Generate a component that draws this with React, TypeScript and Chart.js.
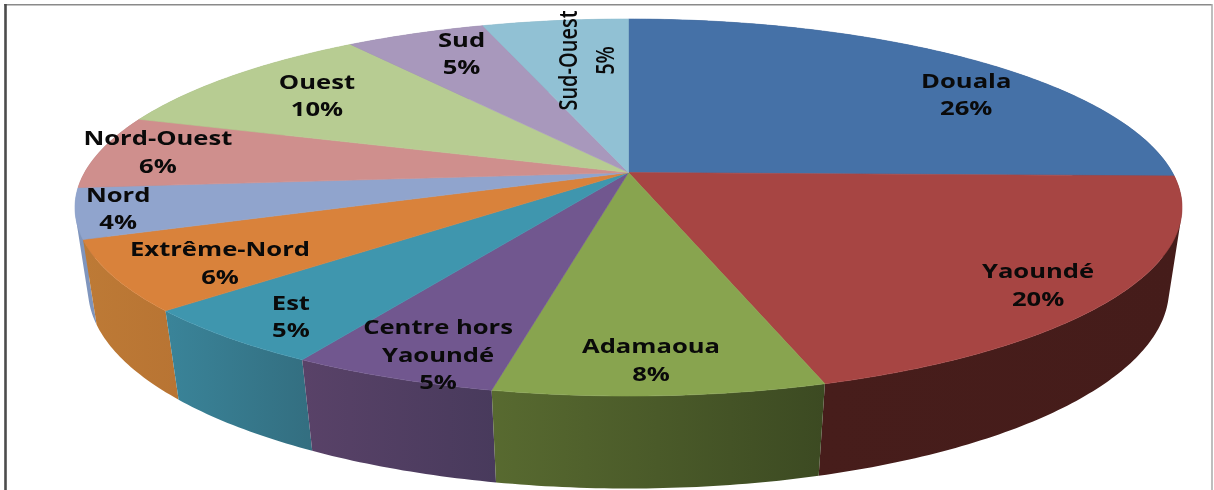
import React, { useEffect, useRef } from "react";
import { Chart, registerables } from "chart.js";

Chart.register(...registerables);

// Data
const categories = ["Douala", "Yaoundé", "Adamaoua", "Centre hors Yaoundé", "Est", "Extrême-Nord", "Nord", "Nord-Ouest", "Ouest", "Sud", "Sud-Ouest"];
const values = [25.3, 19.9, 8.1, 5.1, 5.0, 6.0, 4.3, 6.3, 10.0, 4.9, 5.1];
const percentLabels = ["26%", "20%", "8%", "5%", "5%", "6%", "4%", "6%", "10%", "5%", "5%"];

// Styles
const faceColors = ["#4571a7", "#a74543", "#88a44f", "#71578f", "#3f96ae", "#d9823b", "#90a4cd", "#cf8f8d", "#b7cc92", "#a898bc", "#91c1d4"];
const wallColors = [
  ["#2e4a6e", "#2e4a6e"], ["#471d1b", "#451c1a"], ["#586a30", "#3c4a22"], ["#594268", "#483a5c"],
  ["#3a8499", "#336e80"], ["#bd7a36", "#b87433"], ["#7f95bd", "#7f95bd"], ["#a07070", "#a07070"],
  ["#8fa070", "#8fa070"], ["#7a6e8a", "#7a6e8a"], ["#6f95a5", "#6f95a5"],
];
// Label placement, as polar offsets in the plane of the pie
const labelAngleShift = [9.9, 2.6, 0.4, -1.8, -1.2, -2.6, 0.4, 0.7, 0.3, 2, 2.3];
const labelRadius = [0.819, 0.875, 0.866, 0.895, 0.878, 0.825, 0.925, 0.891, 0.771, 0.821, 0.7];
const labelRotation = [0, 0, 0, 0, 0, 0, 0, 0, 0, 0, -90];

const topView = { cx: 628.5, cy: 172.5, a: 543.9, b: 182, k: 0.1857 };
const baseView = { cx: 628.5, cy: 254, a: 532, b: 193, k: 0.177 };
const TEXT_STRETCH = 1.28;
const LINE_PITCH = 27.5;
const ROTATED_PITCH = 37 / TEXT_STRETCH;

type View = typeof topView;
type Pt = [number, number];

function project(view: View, theta: number, r = 1): Pt {
  const u = r * Math.sin(theta);
  const v = -r * Math.cos(theta);
  const w = 1 - view.k * v;
  return [view.cx + (view.a * u) / w, view.cy + (view.b * v) / w];
}

function rimPoints(view: View, from: number, to: number): Pt[] {
  const steps = Math.max(2, Math.ceil(Math.abs(to - from) / (Math.PI / 240)));
  const pts: Pt[] = [];
  for (let i = 0; i <= steps; i++) pts.push(project(view, from + ((to - from) * i) / steps));
  return pts;
}

function signedArea(q: Pt[]): number {
  let a = 0;
  q.forEach((p, i) => {
    const n = q[(i + 1) % q.length];
    a += p[0] * n[1] - n[0] * p[1];
  });
  return a;
}

function splitLabel(name: string): string[] {
  return name === "Centre hors Yaoundé" ? ["Centre hors", "Yaoundé"] : [name];
}

const pie3d = {
  id: "pie3d",
  beforeDraw(chart: any) {
    const { ctx, width, height } = chart;
    ctx.save();
    ctx.fillStyle = "#ffffff";
    ctx.fillRect(0, 0, width, height);
    ctx.lineCap = "butt";
    ctx.strokeStyle = "#8a8a8a";
    ctx.lineWidth = 1.5;
    ctx.beginPath();
    ctx.moveTo(4, 4.8);
    ctx.lineTo(1212, 4.8);
    ctx.stroke();
    ctx.strokeStyle = "#a8a8a8";
    ctx.beginPath();
    ctx.moveTo(1212, 4);
    ctx.lineTo(1212, height);
    ctx.stroke();
    ctx.strokeStyle = "#4c4c4c";
    ctx.lineWidth = 2.6;
    ctx.beginPath();
    ctx.moveTo(5.5, 4);
    ctx.lineTo(5.5, height);
    ctx.stroke();
    ctx.restore();
  },
  beforeDatasetsDraw(chart: any) {
    const { ctx } = chart;
    const arcs = chart.getDatasetMeta(0).data;
    const slices = arcs.map((arc: any, index: number) => ({
      index,
      start: arc.startAngle + Math.PI / 2,
      end: arc.endAngle + Math.PI / 2,
      color: arc.options.backgroundColor,
    }));

    ctx.save();
    // walls, back to front: each wall is one path, swept from the rim to the base,
    // so that its outline follows the silhouette of the cylinder
    const depthOf = (s: any) => Math.abs((s.start + s.end) / 2 - Math.PI);
    [...slices].sort((p, q) => depthOf(q) - depthOf(p)).forEach((s: any) => {
      const upper = rimPoints(topView, s.start, s.end);
      const lower = rimPoints(baseView, s.start, s.end);
      const xs = [...upper, ...lower].map((p) => p[0]);
      const gradient = ctx.createLinearGradient(Math.min(...xs), 0, Math.max(...xs), 0);
      gradient.addColorStop(0, wallColors[s.index][0]);
      gradient.addColorStop(1, wallColors[s.index][1]);
      ctx.fillStyle = gradient;
      ctx.beginPath();
      for (let i = 0; i + 1 < upper.length; i++) {
        let quad: Pt[] = [upper[i], upper[i + 1], lower[i + 1], lower[i]];
        if (signedArea(quad) < 0) quad = quad.reverse();
        quad.forEach((p, j) => (j ? ctx.lineTo(p[0], p[1]) : ctx.moveTo(p[0], p[1])));
        ctx.closePath();
      }
      ctx.fill("nonzero");
    });

    // top face
    slices.forEach((s: any) => {
      ctx.fillStyle = s.color;
      ctx.strokeStyle = s.color;
      ctx.lineWidth = 0.6;
      ctx.beginPath();
      ctx.moveTo(topView.cx, topView.cy);
      rimPoints(topView, s.start, s.end).forEach((p) => ctx.lineTo(p[0], p[1]));
      ctx.closePath();
      ctx.fill();
      ctx.stroke();
    });

    // labels
    ctx.fillStyle = "#0a0a0a";
    ctx.textAlign = "center";
    ctx.textBaseline = "middle";
    slices.forEach((s: any) => {
      const mid = (s.start + s.end) / 2 + (labelAngleShift[s.index] * Math.PI) / 180;
      const [x, y] = project(topView, mid, labelRadius[s.index]);
      const lines = [...splitLabel(categories[s.index]), percentLabels[s.index]];
      const rotated = labelRotation[s.index] !== 0;
      const pitch = rotated ? ROTATED_PITCH : LINE_PITCH;
      ctx.font = rotated ? '600 20px "Open Sans"' : '700 20px "Open Sans"';
      ctx.save();
      ctx.translate(x, y + (rotated ? 0 : 1));
      ctx.scale(TEXT_STRETCH, 1);
      ctx.rotate((labelRotation[s.index] * Math.PI) / 180);
      lines.forEach((line, i) => ctx.fillText(line, 0, (i - (lines.length - 1) / 2) * pitch));
      ctx.restore();
    });
    ctx.restore();
    return false;
  },
};

export default function App() {
  const ref = useRef<HTMLCanvasElement>(null);
  useEffect(() => {
    const chart = new Chart(ref.current as HTMLCanvasElement, {
      type: "pie",
      data: {
        labels: categories,
        datasets: [{ data: values, backgroundColor: faceColors, borderWidth: 0 }],
      },
      options: {
        animation: false,
        responsive: false,
        plugins: { legend: { display: false }, tooltip: { enabled: false } },
      },
      plugins: [pie3d],
    } as any);
    return () => chart.destroy();
  }, []);
  return (
    <div style={{ position: "absolute", left: 0, top: 0, width: 1214, height: 490, overflow: "hidden", background: "#fff" }}>
      <canvas ref={ref} width={1214} height={490} style={{ display: "block", filter: "blur(0.6px)" }} />
    </div>
  );
}
